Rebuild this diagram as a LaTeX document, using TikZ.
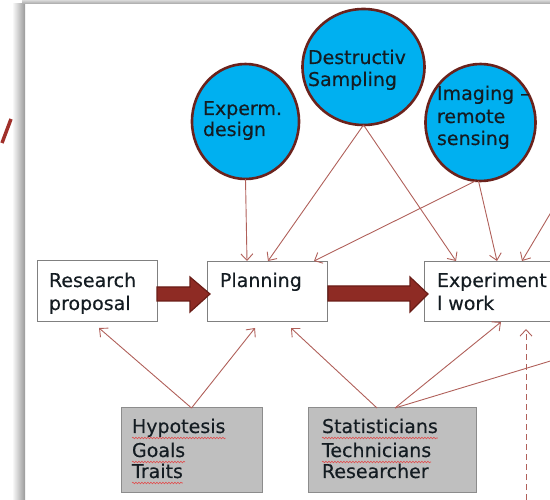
\documentclass[tikz,border=0pt]{standalone}
\usepackage{fontspec}
\setmainfont[FakeBold=0.35]{DejaVu Sans}
\usetikzlibrary{arrows.meta,shapes.geometric,decorations.pathmorphing}

\definecolor{circfill}{HTML}{00B0F0}
\definecolor{circline}{HTML}{6B221C}
\definecolor{linkred}{HTML}{B0605A}
\definecolor{blockred}{HTML}{8E2B24}
\definecolor{blockedge}{HTML}{6A1D17}
\definecolor{boxedge}{HTML}{808080}
\definecolor{grayfill}{HTML}{BFBFBF}
\definecolor{grayedge}{HTML}{8C8C8C}
\definecolor{inktext}{HTML}{141C22}
\definecolor{spellred}{HTML}{E05050}
\definecolor{titlered}{HTML}{A0302A}

\tikzset{
  bubble/.style={ellipse, draw=circline, fill=circfill, line width=2.6pt, inner sep=0pt, outer sep=0pt},
  plainbox/.style={rectangle, draw=boxedge, fill=white, line width=0.8pt, inner sep=0pt, outer sep=0pt},
  graybox/.style={rectangle, draw=grayedge, fill=grayfill, line width=1pt, inner sep=0pt, outer sep=0pt},
  txt/.style={inner sep=0pt, outer sep=0pt, anchor=base west, text=inktext},
  link/.style={draw=linkred, line width=0.9pt, -{Straight Barb[length=6.5pt,width=12pt]}},
  dashlink/.style={link, dash pattern=on 6pt off 4pt},
  blockarrow/.style={fill=blockred, draw=blockedge, line width=1.2pt, line join=miter},
  spell/.style={draw=spellred, line width=0.6pt, decorate, decoration={snake, amplitude=0.8pt, segment length=3pt}}
}

\begin{document}
\begin{tikzpicture}[x=1pt, y=-1pt, font=\fontsize{19}{23}\selectfont]
\useasboundingbox (0,0) rectangle (550,500);
\clip (0,0) rectangle (550,500);

% slide frame shadow and a fragment of the title behind it
\shade[left color=white, right color=black!40] (12,4) rectangle (25,500);
\shade[top color=black!15, bottom color=black!35] (22,0) rectangle (550,4);
\draw[titlered, line width=3.5pt] (11,119) -- (2,143);

% boxes
\node[plainbox, anchor=north west, minimum width=120pt, minimum height=61pt] (rp) at (37,260) {};
\node[plainbox, anchor=north west, minimum width=120pt, minimum height=60pt] (plan) at (207,261) {};
\node[plainbox, anchor=north west, minimum width=150pt, minimum height=60pt] (exp) at (424,261) {};
\node[graybox, anchor=north west, minimum width=141pt, minimum height=84pt] (hyp) at (121,408) {};
\node[graybox, anchor=north west, minimum width=168pt, minimum height=84pt] (stat) at (308,408) {};

% box texts
\node[txt] (rp1) at (49,287) {Research};
\node[txt] (rp2) at (49,310) {proposal};
\node[txt] (pl1) at (220,287) {Planning};
\node[txt] (ex1) at (437,287) {Experiment};
\node[txt] (ex2) at (437,310) {l work};
\node[txt] (hy1) at (132,433) {Hypotesis};
\node[txt] (hy2) at (132,457) {Goals};
\node[txt] (hy3) at (132,478) {Traits};
\node[txt] (st1) at (322,433) {Statisticians};
\node[txt] (st2) at (322,457) {Technicians};
\node[txt] (st3) at (322,478) {Researcher};

% spell-check underlines
\foreach \w in {hy1,hy2,hy3,st1,st2}
  \draw[spell] ([yshift=-5pt]\w.base west) -- ([yshift=-5pt]\w.base east);

% block arrows between the main steps
\draw[blockarrow] (157,287) -- (190,287) -- (190,277) -- (210,294) -- (190,312) -- (190,301) -- (157,301) -- cycle;
\draw[blockarrow] (328,286) -- (410,286) -- (410,277) -- (428,294) -- (410,312) -- (410,301) -- (328,301) -- cycle;

% circles
\node[bubble, minimum width=107pt, minimum height=115pt] (exd) at (245.5,121.5) {};
\node[bubble, minimum width=122pt, minimum height=116pt] (dest) at (363.5,67) {};
\node[bubble, minimum width=110pt, minimum height=117pt] (img) at (480.5,122.5) {};

\node[txt] (exd1) at (203,115) {Experm.};
\node[txt] (exd2) at (203,136) {design};
\node[txt] (de1) at (308,64) {Destructiv};
\node[txt] (de2) at (308,86) {Sampling};
\node[txt] (im1) at (437,100) {Imaging –};
\node[txt] (im2) at (437,123) {remote};
\node[txt] (im3) at (437,145) {sensing};

% off-picture ends
\coordinate (offA) at (575,172);
\coordinate (offB) at (600,346);
\coordinate (offC) at (526,520);

% connectors from the circles
\draw[link] (exd.south) -- ([xshift=40pt]plan.north west);
\draw[link] (dest.south) -- ([xshift=61pt]plan.north west);
\draw[link] (dest.south) -- ([xshift=32pt]exp.north west);
\draw[link] ([xshift=-5pt]img.south) -- ([xshift=107pt]plan.north west);
\draw[link] ([xshift=-2pt]img.south) -- ([xshift=73pt]exp.north west);
\draw[link] (offA) -- ([xshift=98pt]exp.north west);

% connectors from the grey boxes
\draw[link] (hyp.north) -- ([xshift=62pt,yshift=-7pt]rp.south west);
\draw[link] (hyp.north) -- ([xshift=48pt,yshift=-7pt]plan.south west);
\draw[link] ([xshift=-15pt]stat.north) -- ([xshift=84pt,yshift=-7pt]plan.south west);
\draw[link] ([xshift=3pt]stat.north) -- ([xshift=77pt,yshift=-1pt]exp.south west);
\draw[draw=linkred, line width=0.9pt] ([xshift=3pt]stat.north) -- (offB);
\draw[dashlink] (offC) -- ([xshift=102pt,yshift=-8pt]exp.south west);
\end{tikzpicture}
\end{document}
